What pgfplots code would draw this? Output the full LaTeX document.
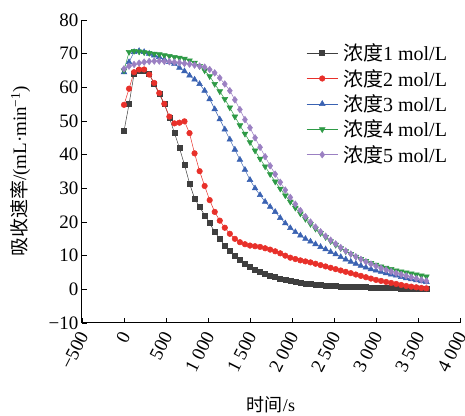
\documentclass[border=0pt]{standalone}
\usepackage{fontspec}
\setmainfont{Liberation Serif}
\newfontfamily\cjk{Noto Sans CJK SC}
\usepackage{pgfplots}
\usepackage{pgfplotstable}
\pgfplotsset{compat=1.18}

\definecolor{cA}{HTML}{3F3F3F}
\definecolor{cB}{HTML}{E8302A}
\definecolor{cC}{HTML}{3A62B2}
\definecolor{cD}{HTML}{2E9A46}
\definecolor{cE}{HTML}{9B80C2}

% t [s], absorption rate for 1..5 mol/L
\pgfplotstableread{
t a b c d e
0 47 54.8 64.5 65 65.5
60 55 59.6 67.5 70.5 66.3
120 64 64.5 70.5 70.8 66.8
180 65 65.3 70.8 70.6 67.2
240 65 65.3 70.5 70.4 67.5
300 64 63.8 70 70.2 67.7
360 61 61.3 69.5 70 67.8
420 58 58.3 69 69.8 67.8
480 55 55.1 68.3 69.5 67.7
540 51 51.3 67.5 69.3 67.6
600 46.5 49.3 67 69 67.5
660 42 49.5 65.8 68.8 67.3
720 37 49.9 64.8 68.5 67.1
780 31.5 46.4 63.5 68 66.9
840 27 40.4 62.3 67.3 66.6
900 24.5 35.1 61 66.3 66.3
960 22 30.7 59 65 66
1020 19.7 26.5 56.5 63.3 65.3
1080 17 23 53.5 61 64.3
1140 15 20.4 50.5 58.8 62.8
1200 13 18.3 47.5 56.5 61
1260 11.5 16.5 44.5 54 59
1320 10 15 41.5 51.3 56.3
1380 8.8 14 38.5 48.7 53.4
1440 7.7 13.4 35.5 46.2 50.4
1500 6.7 13 32.5 43.7 48
1560 5.8 12.8 30 41.2 45
1620 5.1 12.6 28 38.8 42.2
1680 4.5 12.2 26 36.5 39.4
1740 4.0 11.8 24.5 34.2 36.7
1800 3.6 11.3 23 32 34.2
1860 3.2 10.7 21.2 29.9 31.8
1920 2.9 10 19.6 27.9 29.5
1980 2.6 9.4 18.2 26 27.3
2040 2.3 9 17 24.2 25.3
2100 2.0 8.6 16 22.5 23.4
2160 1.8 8.3 15 20.9 21.6
2220 1.6 8.0 14.2 19.4 20
2280 1.4 7.6 13.4 18 18.5
2340 1.3 7.2 12.6 16.7 17.1
2400 1.2 6.8 11.9 15.5 15.8
2460 1.1 6.4 11.1 14.3 14.6
2520 1.0 6.0 10.4 13.2 13.5
2580 0.9 5.6 9.6 12.2 12.4
2640 0.9 5.2 8.9 11.3 11.4
2700 0.8 4.8 8.2 10.5 10.5
2760 0.8 4.4 7.6 9.7 9.7
2820 0.7 4.0 7.0 9.0 8.9
2880 0.7 3.6 6.5 8.4 8.2
2940 0.6 3.2 6.0 7.8 7.5
3000 0.6 2.8 5.6 7.3 6.9
3060 0.5 2.5 5.2 6.8 6.3
3120 0.5 2.2 4.8 6.4 5.8
3180 0.4 1.9 4.4 6.0 5.3
3240 0.4 1.6 4.1 5.6 4.8
3300 0.3 1.3 3.7 5.3 4.4
3360 0.3 1.0 3.3 5.0 4.0
3420 0.2 0.8 3.0 4.7 3.6
3480 0.2 0.6 2.7 4.4 3.2
3540 0.1 0.4 2.4 4.1 2.8
3600 0.1 0.3 2.2 3.8 2.5
}\rates

\begin{document}
\begin{tikzpicture}
\begin{axis}[
    name=ax,
    scale only axis, width=378pt, height=303pt,
    xmin=-500, xmax=4000, ymin=-10, ymax=80,
    axis x line*=bottom, axis y line*=left,
    axis line style={line width=1pt}, tick style={line width=0.9pt, black},
    tick align=inside, major tick length=5pt,
    xtick={-500,0,...,4000},
    xticklabels={−500,0,500,1~000,1~500,2~000,2~500,3~000,3~500,4~000},
    ytick={-10,0,...,80},
    yticklabels={−10,0,10,20,30,40,50,60,70,80},
    ticklabel style={font=\fontsize{19}{21}\selectfont},
    xticklabel style={yshift=-9pt, xshift=2pt, rotate=63, anchor=east,
        inner sep=1pt},
    xlabel={{\cjk 时间}/s},
    ylabel={{\cjk 吸收速率}/(mL·min\textsuperscript{−1})},
    xlabel style={font=\fontsize{18}{20}\selectfont,
        at={(axis description cs:0.5,-0.271)}, anchor=center},
    ylabel style={font=\fontsize{19}{21}\selectfont,
        at={(axis description cs:-0.164,0.5)}, anchor=center},
    legend style={at={(axis description cs:0.585,0.935)}, anchor=north west,
        draw=none, fill=none, font=\fontsize{20}{22}\selectfont,
        row sep=3pt},
    legend cell align=left,
    legend image code/.code={\draw[mark repeat=2,mark phase=2]
        plot coordinates {(0cm,0cm)(0.55cm,0cm)(1.1cm,0cm)};},
    every axis plot/.append style={line width=0.5pt},
]
\addplot[cA, mark=square*, mark size=2.5pt] table[x=t, y=a] {\rates};
\addlegendentry{\hspace{3pt}{\cjk 浓度}1 mol/L}
\addplot[cB, mark=*, mark size=2.8pt] table[x=t, y=b] {\rates};
\addlegendentry{\hspace{3pt}{\cjk 浓度}2 mol/L}
\addplot[cC, mark=triangle*, mark size=3.3pt] table[x=t, y=c] {\rates};
\addlegendentry{\hspace{3pt}{\cjk 浓度}3 mol/L}
\addplot[cD, mark=triangle*, mark options={rotate=180}, mark size=3.3pt] table[x=t, y=d] {\rates};
\addlegendentry{\hspace{3pt}{\cjk 浓度}4 mol/L}
\addplot[cE, mark=diamond*, mark size=3.3pt] table[x=t, y=e] {\rates};
\addlegendentry{\hspace{3pt}{\cjk 浓度}5 mol/L}
\end{axis}
\pgfresetboundingbox
\path[use as bounding box] ([shift={(-82pt,-93pt)}]ax.south west)
    rectangle ([shift={(5pt,20pt)}]ax.north east);
\end{tikzpicture}
\end{document}
